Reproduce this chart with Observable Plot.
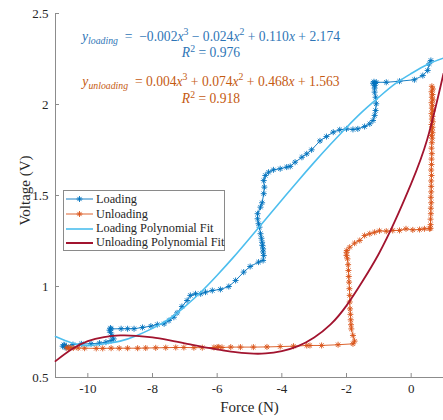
<!DOCTYPE html>
<html><head><meta charset="utf-8">
<script src="https://cdn.jsdelivr.net/npm/d3@7"></script>
<script src="https://cdn.jsdelivr.net/npm/@observablehq/plot@0.6"></script>
<style>
body{margin:0;background:#fff;}
#wrap{position:relative;width:443px;height:420px;overflow:hidden;}
.eq{position:absolute;font-family:"Liberation Serif","Times New Roman",serif;font-size:13.6px;white-space:nowrap;transform:translate(-50%,-50%);line-height:1;}
.eq .s{font-size:0.72em;vertical-align:-0.35em;font-style:italic;}
.eq sup{font-size:0.72em;line-height:0;}
#legend{position:absolute;left:63px;top:190px;width:162px;height:61px;border:1px solid #8a8a8a;background:#fff;box-sizing:border-box;font-family:"Liberation Serif","Times New Roman",serif;font-size:12.3px;color:#262626;}
.row{position:absolute;left:0;height:14px;display:flex;align-items:center;white-space:nowrap;}
.row svg{margin-left:2px;margin-right:3px;flex:none;}
</style></head><body><div id="wrap"></div>
<script>
// Loading data (Force N, Voltage V)
const loadingForce = [-10.78,-10.74,-10.70,-10.72,-10.66,-10.46,-10.20,-9.90,-9.64,-9.44,-9.28,-9.20,-9.25,-9.30,-9.33,-9.30,-9.28,-8.97,-8.77,-8.57,-8.31,-8.05,-7.85,-7.64,-7.49,-7.34,-7.24,-7.09,-6.93,-6.83,-6.67,-6.51,-6.36,-6.15,-5.90,-5.64,-5.43,-5.18,-4.98,-4.72,-4.58,-4.56,-4.58,-4.58,-4.60,-4.61,-4.63,-4.66,-4.69,-4.72,-4.75,-4.75,-4.66,-4.61,-4.56,-4.54,-4.56,-4.51,-4.41,-4.26,-4.05,-3.85,-3.74,-3.59,-3.38,-3.23,-3.08,-2.82,-2.62,-2.41,-2.21,-2.00,-1.80,-1.65,-1.44,-1.28,-1.18,-1.13,-1.10,-1.08,-1.10,-1.13,-1.13,-1.13,-1.18,-1.15,-1.12,-1.08,-0.77,-0.36,0.10,0.36,0.51,0.56,0.61];
const loadingVoltage = [0.672,0.680,0.665,0.676,0.670,0.681,0.685,0.685,0.689,0.694,0.703,0.712,0.730,0.748,0.760,0.772,0.767,0.768,0.768,0.768,0.775,0.782,0.791,0.795,0.813,0.831,0.855,0.890,0.923,0.951,0.960,0.960,0.969,0.978,0.984,1.000,1.033,1.079,1.110,1.134,1.143,1.170,1.190,1.207,1.225,1.243,1.265,1.290,1.326,1.345,1.372,1.400,1.436,1.460,1.510,1.546,1.582,1.610,1.628,1.641,1.647,1.656,1.660,1.683,1.710,1.729,1.751,1.800,1.824,1.848,1.861,1.866,1.863,1.866,1.879,1.894,1.912,1.940,1.967,2.004,2.040,2.068,2.090,2.104,2.117,2.125,2.115,2.122,2.122,2.128,2.136,2.159,2.187,2.224,2.242];

// Unloading data
const unloadingForce = [0.64,0.67,0.63,0.66,0.64,0.67,0.63,0.66,0.64,0.67,0.63,0.66,0.64,0.67,0.63,0.66,0.64,0.66,0.63,0.65,0.64,0.63,0.64,0.63,0.63,0.62,0.63,0.62,0.62,0.62,0.61,0.62,0.61,0.61,0.60,0.60,0.60,0.57,0.41,0.26,0.05,-0.16,-0.36,-0.57,-0.77,-0.98,-1.13,-1.28,-1.44,-1.59,-1.75,-1.90,-1.99,-2.00,-2.00,-1.97,-1.95,-1.94,-1.93,-1.92,-1.91,-1.90,-1.90,-1.89,-1.88,-1.87,-1.86,-1.85,-1.80,-1.75,-1.80,-2.26,-2.77,-3.13,-3.23,-3.64,-4.05,-4.46,-4.88,-5.28,-5.58,-5.85,-5.95,-6.00,-6.10,-6.46,-6.72,-7.03,-7.28,-7.59,-7.90,-8.21,-8.46,-8.77,-9.03,-9.28,-9.54,-9.74,-10.10,-10.30,-10.45,-10.55,-10.60,-10.65];
const unloadingVoltage = [2.100,2.085,2.070,2.055,2.040,2.025,2.010,1.995,1.980,1.965,1.950,1.935,1.920,1.905,1.890,1.875,1.860,1.845,1.830,1.815,1.790,1.760,1.730,1.700,1.670,1.640,1.610,1.580,1.550,1.520,1.490,1.460,1.430,1.400,1.370,1.340,1.320,1.317,1.317,1.313,1.311,1.317,1.308,1.308,1.304,1.306,1.298,1.290,1.280,1.253,1.238,1.216,1.198,1.188,1.170,1.152,1.120,1.088,1.055,1.024,0.988,0.951,0.915,0.877,0.847,0.817,0.790,0.767,0.731,0.700,0.685,0.680,0.676,0.676,0.676,0.672,0.670,0.668,0.667,0.667,0.667,0.665,0.668,0.666,0.665,0.664,0.664,0.665,0.665,0.664,0.663,0.662,0.661,0.661,0.661,0.661,0.660,0.660,0.661,0.662,0.662,0.665,0.660,0.664];

// Polynomial fit curves
const fitForce = [-11,-10.5,-10,-9.5,-9,-8.5,-8,-7.5,-7,-6.5,-6,-5.5,-5,-4.5,-4,-3.5,-3,-2.5,-2,-1.5,-1,-0.5,0,0.5,1];
const loadingFitVoltage = [0.725,0.69,0.675,0.685,0.70,0.73,0.77,0.82,0.89,0.97,1.062,1.16,1.264,1.37,1.475,1.58,1.682,1.78,1.874,1.962,2.04,2.113,2.17,2.22,2.255];
const unloadingFitVoltage = [0.59,0.655,0.70,0.722,0.731,0.729,0.72,0.705,0.688,0.67,0.655,0.641,0.632,0.632,0.645,0.672,0.72,0.79,0.895,1.03,1.18,1.36,1.565,1.81,2.17];

const xTicks = [-10,-8,-6,-4,-2,0];
const yTicks = [0.5,1,1.5,2,2.5];
const legendLabels = ["Loading","Unloading","Loading Polynomial Fit","Unloading Polynomial Fit"];
const colors = {loading:"#0072BD", unloading:"#D95319", loadingFit:"#4DBEEE", unloadingFit:"#A2142F"};

const loading = loadingForce.map((x,i)=>({x, y: loadingVoltage[i]}));
const unloading = unloadingForce.map((x,i)=>({x, y: unloadingVoltage[i]}));
const loadFit = fitForce.map((x,i)=>({x, y: loadingFitVoltage[i]}));
const unloadFit = fitForce.map((x,i)=>({x, y: unloadingFitVoltage[i]}));

const star8 = {draw(ctx, size){ const r = Math.sqrt(size/Math.PI); const d = r*Math.SQRT1_2;
  ctx.moveTo(-r,0);ctx.lineTo(r,0);ctx.moveTo(0,-r);ctx.lineTo(0,r);
  ctx.moveTo(-d,-d);ctx.lineTo(d,d);ctx.moveTo(-d,d);ctx.lineTo(d,-d);}};

const axisGray = "#8c8c8c";
const chart = Plot.plot({
  width: 443, height: 420, marginLeft: 55, marginRight: 0, marginTop: 13, marginBottom: 43,
  x: {domain: [-11, 1]}, y: {domain: [0.5, 2.5]},
  style: {fontFamily: "'Liberation Serif', 'Times New Roman', serif", color: "#262626", background: "white", overflow: "visible"},
  marks: [
    Plot.ruleX([-11], {stroke: axisGray}),
    Plot.ruleY([0.5], {stroke: axisGray}),
    Plot.axisX({ticks: xTicks, tickSize: -4, tickPadding: 10, tickFormat: d => String(d), fontSize: 13, stroke: axisGray, label: null}),
    Plot.axisY({ticks: yTicks, tickSize: -4, tickPadding: 11, tickFormat: d => String(d), fontSize: 13, stroke: axisGray, label: null}),
    Plot.text(["Force (N)"], {frameAnchor: "bottom", dy: 30, lineAnchor: "middle", textAnchor: "middle", fontSize: 15, fill: "#262626"}),
    Plot.text(["Voltage (V)"], {frameAnchor: "left", rotate: -90, dx: -30, dy: -5, textAnchor: "middle", lineAnchor: "middle", fontSize: 15, fill: "#262626"}),
    Plot.line(loading, {x: "x", y: "y", stroke: colors.loading, strokeWidth: 0.9}),
    Plot.dot(loading, {x: "x", y: "y", symbol: star8, r: 3, stroke: colors.loading, fill: "none", strokeWidth: 0.9}),
    Plot.line(unloading, {x: "x", y: "y", stroke: colors.unloading, strokeWidth: 0.9}),
    Plot.dot(unloading, {x: "x", y: "y", symbol: star8, r: 3, stroke: colors.unloading, fill: "none", strokeWidth: 0.9}),
    Plot.line(loadFit, {x: "x", y: "y", stroke: colors.loadingFit, strokeWidth: 1.6, curve: "natural"}),
    Plot.line(unloadFit, {x: "x", y: "y", stroke: colors.unloadingFit, strokeWidth: 1.8, curve: "natural"})
  ]
});
const wrap = document.getElementById("wrap");
wrap.appendChild(chart);

function eq(html, x, y, color){ const d = document.createElement("div"); d.className="eq"; d.style.left=x+"px"; d.style.top=y+"px"; d.style.color=color; d.innerHTML=html; wrap.appendChild(d); }
eq('<i>y</i><span class="s">loading</span>&nbsp; = &nbsp;−0.002<i>x</i><sup>3</sup> − 0.024<i>x</i><sup>2</sup> + 0.110<i>x</i> + 2.174', 211, 38, "#2E75B6");
eq('<i>R</i><sup>2</sup> = 0.976', 211, 53, "#2E75B6");
eq('<i>y</i><span class="s">unloading</span>&nbsp; = 0.004<i>x</i><sup>3</sup> + 0.074<i>x</i><sup>2</sup> + 0.468<i>x</i> + 1.563', 211, 83, "#C55A11");
eq('<i>R</i><sup>2</sup> = 0.918', 211, 99, "#C55A11");

const lg = document.createElement("div"); lg.id = "legend"; wrap.appendChild(lg);
const rowCenters = [8, 23, 37.5, 51.5];
const swatch = [
  {c: colors.loading, w: 0.9, m: true}, {c: colors.unloading, w: 0.9, m: true},
  {c: colors.loadingFit, w: 1.6, m: false}, {c: colors.unloadingFit, w: 2, m: false}];
legendLabels.forEach((lab, i) => {
  const r = document.createElement("div"); r.className = "row"; r.style.top = (rowCenters[i]-7)+"px";
  const s = swatch[i];
  const mk = s.m ? `<path d="M10.5,5 h6 M13.5,2 v6 M11.4,2.9 l4.2,4.2 M11.4,7.1 l4.2,-4.2" stroke="${s.c}" stroke-width="0.9" fill="none"/>` : "";
  r.innerHTML = `<svg width="27" height="10"><line x1="0" y1="5" x2="27" y2="5" stroke="${s.c}" stroke-width="${s.w}"/>${mk}</svg><span>${lab}</span>`;
  lg.appendChild(r);
});
</script>
</body></html>
